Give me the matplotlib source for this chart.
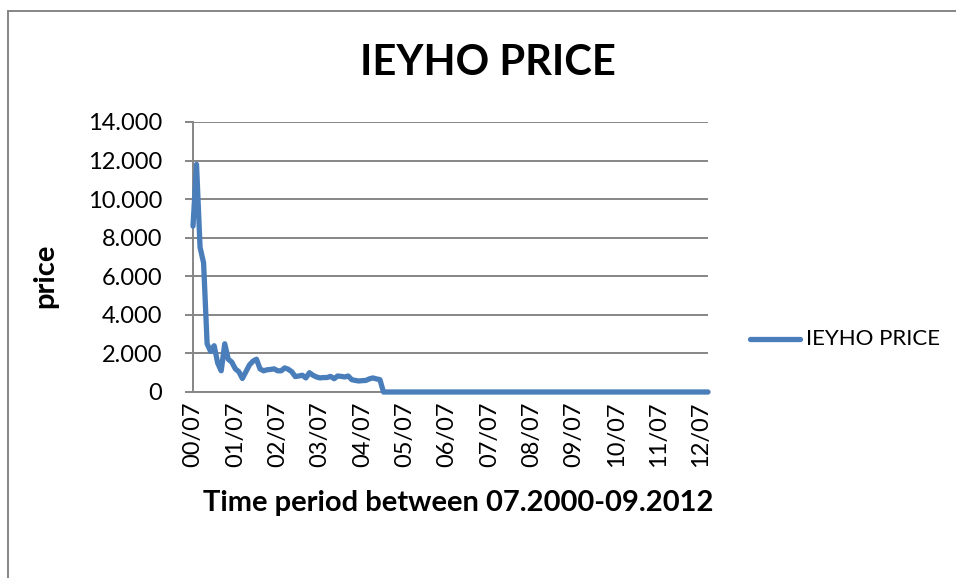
import matplotlib
matplotlib.use("Agg")
import matplotlib.pyplot as plt
import pandas as pd
from matplotlib.lines import Line2D
from matplotlib.patches import Rectangle
from matplotlib.ticker import FuncFormatter, FixedLocator

# Monthly closing price, 07.2000 - 09.2012
price_2000_2004 = [
    8.60, 11.80, 7.50, 6.70, 2.50, 2.10, 2.40, 1.50, 1.10, 2.50,
    1.70, 1.55, 1.20, 1.05, 0.70, 1.05, 1.40, 1.60, 1.70, 1.20,
    1.10, 1.15, 1.17, 1.20, 1.10, 1.10, 1.25, 1.18, 1.05, 0.80,
    0.83, 0.87, 0.73, 1.00, 0.87, 0.78, 0.73, 0.75, 0.75, 0.81,
    0.69, 0.83, 0.81, 0.78, 0.83, 0.64, 0.60, 0.57, 0.59, 0.60,
    0.68, 0.73, 0.68, 0.64,
]
price_2005_2012 = [
    0.0, 0.0, 0.0, 0.0, 0.0, 0.0, 0.0, 0.0, 0.0, 0.0,
    0.0, 0.0, 0.0, 0.0, 0.0, 0.0, 0.0, 0.0, 0.0, 0.0,
    0.0, 0.0, 0.0, 0.0, 0.0, 0.0, 0.0, 0.0, 0.0, 0.0,
    0.0, 0.0, 0.0, 0.0, 0.0, 0.0, 0.0, 0.0, 0.0, 0.0,
    0.0, 0.0, 0.0, 0.0, 0.0, 0.0, 0.0, 0.0, 0.0, 0.0,
    0.0, 0.0, 0.0, 0.0, 0.0, 0.0, 0.0, 0.0, 0.0, 0.0,
    0.0, 0.0, 0.0, 0.0, 0.0, 0.0, 0.0, 0.0, 0.0, 0.0,
    0.0, 0.0, 0.0, 0.0, 0.0, 0.0, 0.0, 0.0, 0.0, 0.0,
    0.0, 0.0, 0.0, 0.0, 0.0, 0.0, 0.0, 0.0, 0.0, 0.0,
    0.0, 0.0, 0.0,
]
prices = price_2000_2004 + price_2005_2012

months = pd.date_range("2000-07-01", "2012-09-01", freq="MS")
month_labels = [d.strftime("%y/%m") for d in months]
y_ticks = [0, 2, 4, 6, 8, 10, 12, 14]

title = "IEYHO PRICE"
series_name = "IEYHO PRICE"
x_title = "Time period between 07.2000-09.2012"
y_title = "price"

LINE_BLUE = "#4a7ebb"
GRID_GRAY = "#868686"
FONT = ["Lato", "DejaVu Sans"]

W, H = 956, 578
fig = plt.figure(figsize=(W / 100, H / 100), dpi=100)
plt.rcParams["font.family"] = FONT

# chart frame
fig.patches.append(Rectangle((8 / W, -0.05), 1.1, (H - 10.5) / H + 0.05,
                             transform=fig.transFigure, fill=False,
                             edgecolor=GRID_GRAY, linewidth=1.4))

left, right, top, bottom = 193, 708, 122, 392
ax = fig.add_axes([left / W, (H - bottom) / H, (right - left) / W, (bottom - top) / H])

x = list(range(len(prices)))
ax.plot(x, prices, color=LINE_BLUE, linewidth=3.8, solid_capstyle="round",
        solid_joinstyle="round", zorder=3, clip_on=False)

ax.set_xlim(0, len(prices) - 1)
ax.set_ylim(0, 14)
ax.set_yticks(y_ticks)
ax.yaxis.set_major_formatter(FuncFormatter(lambda v, p: "0" if v == 0 else f"{int(v)}.000"))
ax.grid(axis="y", color=GRID_GRAY, linewidth=1.4)
ax.set_axisbelow(True)

tick_pos = list(range(0, len(prices), 12))
ax.xaxis.set_major_locator(FixedLocator(tick_pos))
ax.set_xticklabels([month_labels[i] for i in tick_pos], rotation=90, va="top", ha="center")

for s in ("top", "right"):
    ax.spines[s].set_visible(False)
for s in ("left", "bottom"):
    ax.spines[s].set_color(GRID_GRAY)
    ax.spines[s].set_linewidth(1.4)

ax.tick_params(axis="y", length=6, width=1.4, color=GRID_GRAY, pad=16,
               labelsize=17, labelcolor="black")
ax.tick_params(axis="x", length=0, pad=7, labelsize=17, labelcolor="black")

fig.text(488 / W, 1 - 63 / H, title, ha="center", va="center",
         fontsize=30, fontweight="bold")
fig.text(458 / W, 1 - 503 / H, x_title, ha="center", va="center",
         fontsize=21, fontweight="bold")
fig.text(45 / W, 1 - 276 / H, y_title, ha="center", va="center",
         rotation=90, fontsize=21, fontweight="bold")

# legend
fig.lines.append(Line2D([750 / W, 800 / W], [1 - 339 / H, 1 - 339 / H],
                        transform=fig.transFigure, color=LINE_BLUE,
                        linewidth=3.8, solid_capstyle="round"))
fig.text(806 / W, 1 - 339 / H, series_name, ha="left", va="center", fontsize=16)

fig.savefig("out.png", dpi=100)
